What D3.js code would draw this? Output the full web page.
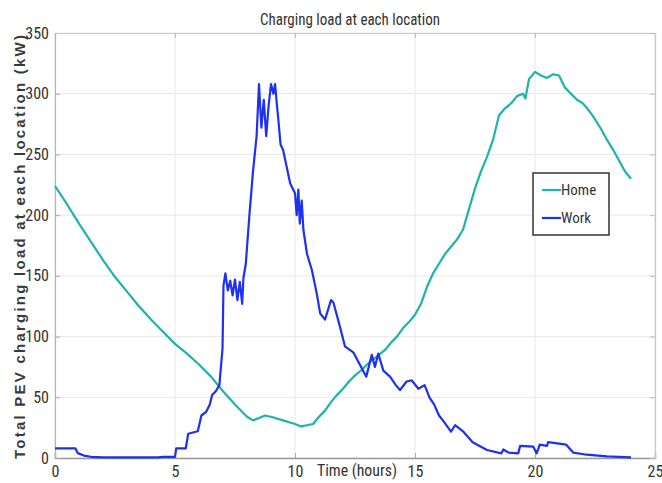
<!DOCTYPE html>
<html><head><meta charset="utf-8">
<script src="https://cdn.jsdelivr.net/npm/d3@7"></script>
<style>
body{margin:0;background:#fff;}
svg{display:block;}
.narrow{font-family:"Liberation Sans Narrow","Arial Narrow","Roboto Condensed","Liberation Sans",Arial,sans-serif;}
</style></head><body>
<svg id="chart" width="662" height="483"></svg>
<script>
const title = "Charging load at each location";
const xLabel = "Time (hours)";
const yLabel = "Total PEV charging load at each location (kW)";
const seriesNames = ["Home", "Work"];
const xTicks = [0, 5, 10, 15, 20, 25];
const yTicks = [0, 50, 100, 150, 200, 250, 300, 350];

const homeHours = [0,0.5,1,1.5,2,2.5,3,3.5,4,4.5,5,5.5,6,6.5,7,7.5,8,8.25,8.5,8.75,9,9.5,10,10.25,10.5,10.75,11,11.25,11.5,11.75,12,12.25,12.5,12.75,13,13.25,13.5,13.75,14,14.25,14.5,14.75,15,15.25,15.5,15.75,16,16.25,16.5,16.75,17,17.25,17.5,17.75,18,18.25,18.5,18.75,19,19.25,19.5,19.6,19.75,20,20.25,20.5,20.75,21,21.25,21.5,21.75,22,22.25,22.5,22.75,23,23.25,23.5,23.75,24];
const homeLoad  = [224,209,193,178,163,149,137,125,114,104,94,86,77,67,55,44,34,31,33,35,34,31,28,26,27,28,34,39,46,52,57,63,68,72,77,81,85,89,95,100,107,112,118,127,141,152,160,168,174,180,188,205,222,236,248,262,282,288,292,298,300,296,312,318,315,313,316,315,305,300,295,292,286,279,271,262,254,245,236,230];

const workHours = [0,0.85,0.95,1.2,1.5,2,4.3,4.5,5,5.05,5.45,5.55,5.95,6.1,6.3,6.45,6.55,6.7,6.85,6.9,6.98,7.02,7.1,7.2,7.3,7.4,7.5,7.6,7.7,7.8,7.85,7.95,8.1,8.25,8.4,8.5,8.6,8.7,8.8,8.9,9.0,9.1,9.17,9.25,9.3,9.4,9.5,9.65,9.8,10.0,10.07,10.14,10.2,10.28,10.35,10.5,10.7,10.9,11.05,11.25,11.5,11.6,11.875,12.08,12.43,12.7,12.97,13.2,13.33,13.47,13.68,13.96,14.2,14.375,14.65,14.86,15.14,15.4,15.6,15.8,16.0,16.2,16.5,16.67,17.0,17.4,18.0,18.6,18.68,18.9,19.3,19.38,19.93,20.07,20.2,20.5,20.55,21.3,21.6,22.15,23.0,24];
const workLoad  = [8,8,4,2,1,0.5,0.5,1,1,8,8,20,22,35,38,44,52,55,60,72,90,142,152,138,146,134,147,130,145,127,148,160,200,236,265,308,272,295,265,290,308,300,308,290,280,258,254,240,226,218,200,221,193,212,188,168,155,136,119,114,130,128,108,92,87,77,67,85,75,86,72,67,60,56,63,64,57,60,50,44,35,30,21.7,27,22,13,6.6,3.8,7,4.4,3.8,10,9.3,3.8,11,10,13,11,4.4,2.7,1.4,0.5];

const colors = ["#1cb4ab", "#1f30ee"];

const svg = d3.select("#chart");
const m = {left:55, top:33, right:7, bottom:25};
const W = 662 - m.left - m.right, H = 483 - m.top - m.bottom;
const x = d3.scaleLinear().domain([0,25]).range([m.left, m.left+W]);
const y = d3.scaleLinear().domain([0,350]).range([m.top+H, m.top]);

// grid
const g = svg.append("g");
g.selectAll(".gx").data(xTicks).join("line")
  .attr("x1", d=>x(d)).attr("x2", d=>x(d)).attr("y1", m.top).attr("y2", m.top+H)
  .attr("stroke", "#ebebeb").attr("stroke-width", 1.2);
g.selectAll(".gy").data(yTicks).join("line")
  .attr("x1", m.left).attr("x2", m.left+W).attr("y1", d=>y(d)).attr("y2", d=>y(d))
  .attr("stroke", "#ebebeb").attr("stroke-width", 1.2);

// axes
const xAxis = d3.axisBottom(x).tickValues(xTicks).tickSize(-5).tickPadding(8).tickFormat(d3.format("d"));
const yAxis = d3.axisLeft(y).tickValues(yTicks).tickSize(-5).tickPadding(6).tickFormat(d3.format("d"));
const gx = svg.append("g").attr("transform", `translate(0,${m.top+H})`).call(xAxis);
const gy = svg.append("g").attr("transform", `translate(${m.left},0)`).call(yAxis);
[gx, gy].forEach(a => {
  a.selectAll(".tick line").attr("stroke", "#aaa");
  a.selectAll("text").attr("class", "narrow").attr("font-size", 16).attr("fill", "#333");
});
gx.select(".domain").attr("stroke", "#9a9a9a").attr("stroke-width", 1.5);
gy.select(".domain").attr("stroke", "#b5b5b5").attr("stroke-width", 1.2);
// top and right box lines with inward ticks
const gt = svg.append("g").attr("transform", `translate(0,${m.top})`).call(d3.axisTop(x).tickValues(xTicks).tickSize(-5).tickFormat(""));
const gr = svg.append("g").attr("transform", `translate(${m.left+W},0)`).call(d3.axisRight(y).tickValues(yTicks).tickSize(-5).tickFormat(""));
[gt, gr].forEach(a => {
  a.select(".domain").attr("stroke", "#c8c8c8").attr("stroke-width", 1.2);
  a.selectAll(".tick line").attr("stroke", "#bbb");
});

// lines
const line = d3.line().x(d=>x(d[0])).y(d=>y(d[1]));
const series = [
  d3.zip(homeHours, homeLoad),
  d3.zip(workHours, workLoad)
];
svg.append("g").selectAll("path").data(series).join("path")
  .attr("d", line).attr("fill", "none")
  .attr("stroke", (d,i)=>colors[i]).attr("stroke-width", 2.2)
  .attr("stroke-linejoin", "round");

// title
svg.append("text").attr("class", "narrow").attr("x", 350).attr("y", 25)
  .attr("text-anchor", "middle").attr("font-size", 17).attr("fill", "#333")
  .attr("textLength", 180).attr("lengthAdjust", "spacingAndGlyphs").text(title);

// x label
svg.append("text").attr("class", "narrow").attr("x", 357).attr("y", 476)
  .attr("text-anchor", "middle").attr("font-size", 16).attr("fill", "#333")
  .attr("textLength", 80).attr("lengthAdjust", "spacingAndGlyphs").text(xLabel);

// y label
svg.append("text").attr("transform", "translate(25,247) rotate(-90)")
  .attr("text-anchor", "middle").attr("font-family", "'Liberation Sans', Arial, sans-serif")
  .attr("font-size", 15).attr("font-weight", "bold").attr("fill", "#3a3a3a")
  .attr("textLength", 424).attr("lengthAdjust", "spacing").text(yLabel);

// legend
const lg = svg.append("g");
lg.append("rect").attr("x", 533).attr("y", 173).attr("width", 76).attr("height", 62)
  .attr("fill", "#fff").attr("stroke", "#333").attr("stroke-width", 1.5);
seriesNames.forEach((n,i) => {
  const yy = 190 + i*28;
  lg.append("line").attr("x1", 542).attr("x2", 561).attr("y1", yy).attr("y2", yy)
    .attr("stroke", colors[i]).attr("stroke-width", 2.2);
  lg.append("text").attr("class", "narrow").attr("x", 561).attr("y", yy+5)
    .attr("font-size", 15).attr("fill", "#333").text(n);
});
</script>
</body></html>
